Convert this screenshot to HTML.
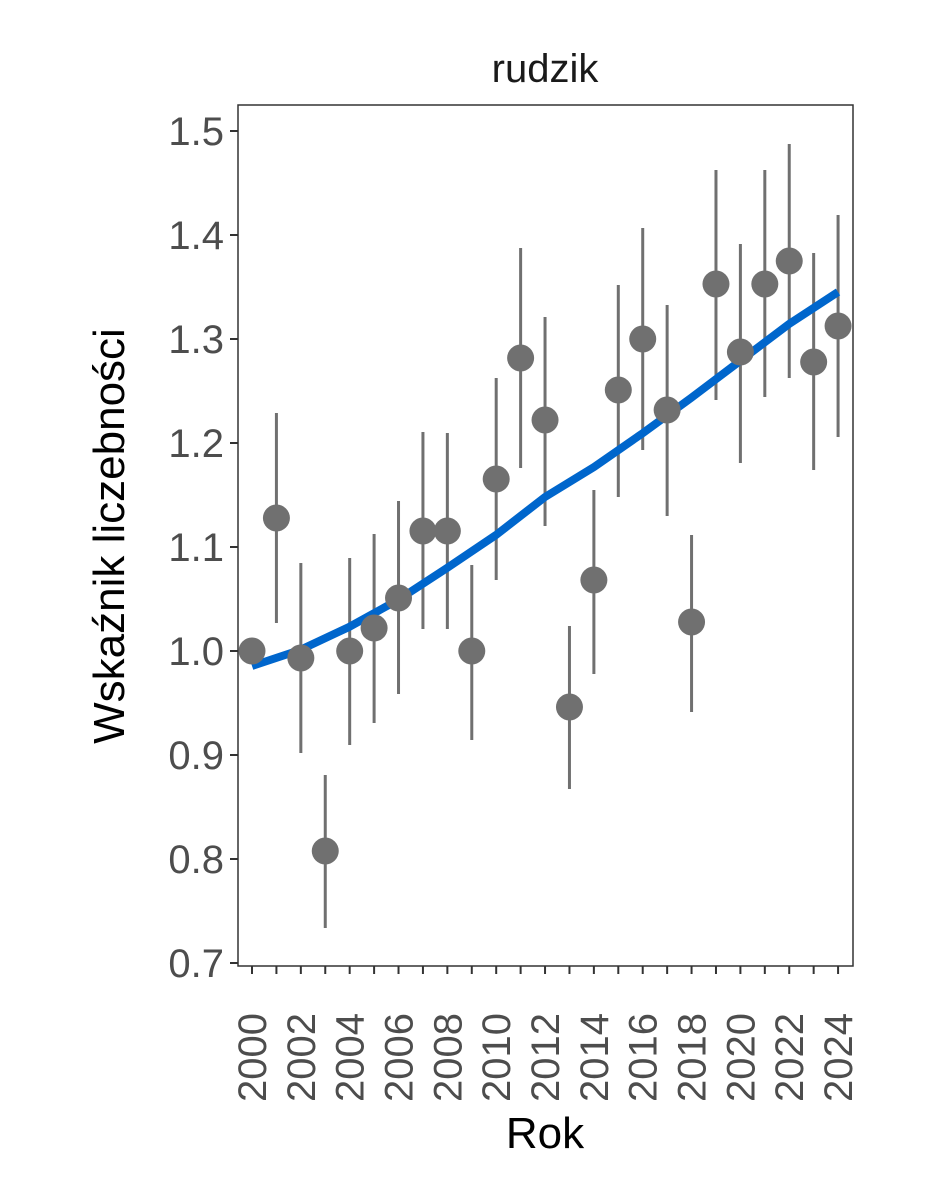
<!DOCTYPE html>
<html><head><meta charset="utf-8"><style>body{margin:0;background:#fff}</style></head><body>
<svg width="944" height="1181" xmlns="http://www.w3.org/2000/svg" font-family="Liberation Sans, sans-serif">
<rect width="944" height="1181" fill="#fff"/>
<text x="545" y="82" font-size="40" text-anchor="middle" fill="#1a1a1a">rudzik</text>
<rect x="238" y="105" width="615" height="861" fill="none" stroke="#333" stroke-width="1.5"/>
<g stroke="#333" stroke-width="2">
<line x1="230" y1="131" x2="238" y2="131"/><line x1="230" y1="235" x2="238" y2="235"/><line x1="230" y1="339" x2="238" y2="339"/><line x1="230" y1="443" x2="238" y2="443"/><line x1="230" y1="547" x2="238" y2="547"/><line x1="230" y1="651" x2="238" y2="651"/><line x1="230" y1="755" x2="238" y2="755"/><line x1="230" y1="859" x2="238" y2="859"/><line x1="230" y1="963" x2="238" y2="963"/>
</g>
<g font-size="40" fill="#4d4d4d" text-anchor="end">
<text x="224" y="145">1.5</text><text x="224" y="249">1.4</text><text x="224" y="353">1.3</text><text x="224" y="457">1.2</text><text x="224" y="561">1.1</text><text x="224" y="665">1.0</text><text x="224" y="769">0.9</text><text x="224" y="873">0.8</text><text x="224" y="977">0.7</text>
</g>
<g stroke="#333" stroke-width="2" id="xt"></g>
<g id="xl" font-size="40" fill="#4d4d4d"></g>
<text x="545" y="1148" font-size="44" text-anchor="middle" fill="#000">Rok</text>
<text transform="translate(124,536) rotate(-90)" font-size="44" text-anchor="middle" fill="#000">Wskaźnik liczebności</text>
<g id="eb" stroke="#707070" stroke-width="3"></g>
<polyline fill="none" stroke="#0066cc" stroke-width="8" points="252,666 300,650 349,627 398,600 447,568 496,535 545,497 594,467 643,433 691,398 740,361 789,324 838,292"/>
<g id="pt" fill="#707070"></g>
</svg>
<script>
var d=[[651,651,651],[518,413,623],[658,563,753],[851,775,928],[651,558,745],[628,534,723],[598,501,694],[531,432,629],[531,433,629],[651,565,740],[479,378,580],[358,248,468],[420,317,526],[707,626,789],[580,490,674],[390,285,497],[339,228,450],[410,305,516],[622,535,712],[284,170,400],[352,244,463],[284,170,397],[261,144,378],[362,253,470],[326,215,437]];
var ns="http://www.w3.org/2000/svg";
function el(p,t,a,txt){var e=document.createElementNS(ns,t);for(var k in a)e.setAttribute(k,a[k]);if(txt)e.textContent=txt;document.getElementById(p).appendChild(e);}
for(var i=0;i<25;i++){var x=252+i*24.42;
el('xt','line',{x1:x,y1:966,x2:x,y2:974});
if(i%2==0)el('xl','text',{transform:'translate('+(x+14)+',1102) rotate(-90)'},String(2000+i));
if(d[i][1]!=d[i][2])el('eb','line',{x1:x,y1:d[i][1],x2:x,y2:d[i][2]});
el('pt','circle',{cx:x,cy:d[i][0],r:13.5});}
</script>
</body></html>
